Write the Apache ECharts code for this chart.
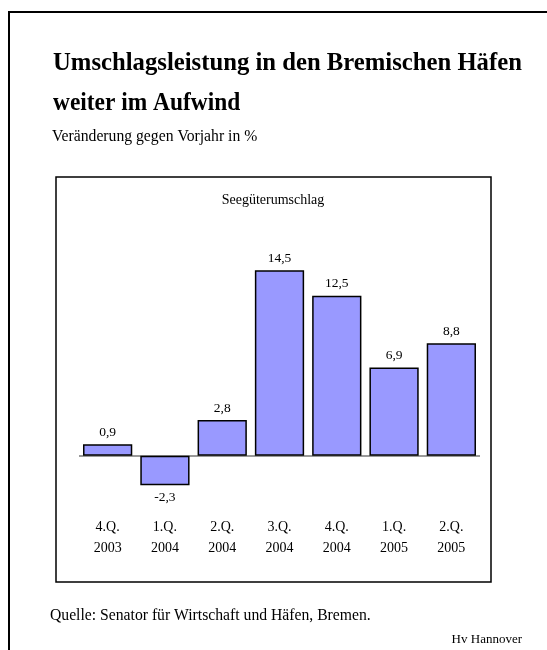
<!DOCTYPE html>
<html>
<head>
<meta charset="utf-8">
<script src="https://cdn.jsdelivr.net/npm/echarts@6/dist/echarts.min.js"></script>
<style>
  html, body { margin: 0; padding: 0; background: #fff; }
  #chart { width: 547px; height: 650px; }
</style>
</head>
<body>
<div id="chart"></div>
<script>
// Quartale (zweizeilig: Quartal / Jahr)
const quarters = ["4.Q.", "1.Q.", "2.Q.", "3.Q.", "4.Q.", "1.Q.", "2.Q."];
const years = ["2003", "2004", "2004", "2004", "2004", "2005", "2005"];
// Veränderung gegen Vorjahr in %
const values = [0.9, -2.3, 2.8, 14.5, 12.5, 6.9, 8.8];

const serif = "'Liberation Serif', 'Times New Roman', serif";

const chart = echarts.init(document.getElementById("chart"), null, { renderer: "canvas" });

const option = {
    backgroundColor: "#fff",
    animation: false,
    grid: {
        left: 79,
        right: 67,
        top: 251,
        bottom: 143,
    },
    xAxis: {
        type: "category",
        data: quarters.map((q, i) => q + "\n" + years[i]),
        axisLine: { show: false },
        axisTick: { show: false },
        axisLabel: {
            margin: 10,
            fontFamily: serif,
            fontSize: 14,
            lineHeight: 21,
            color: "#000",
        },
    },
    yAxis: {
        type: "value",
        min: -4,
        max: 16,
        show: false,
    },
    series: [
        {
            type: "bar",
            // negative Balken: Beschriftung unten
            data: values.map((v) => ({
                value: v,
                label: v < 0 ? { position: "bottom", distance: 5 } : undefined,
            })),
            barCategoryGap: "14%",
            itemStyle: {
                color: "#9999ff",
                borderColor: "#000",
                borderWidth: 1.5,
            },
            label: {
                show: true,
                position: "top",
                distance: 5,
                fontFamily: serif,
                fontSize: 13.5,
                color: "#000",
                formatter: (p) => String(p.value).replace(".", ","),
            },
            markLine: {
                silent: true,
                symbol: "none",
                label: { show: false },
                lineStyle: { color: "#777", width: 1.5, type: "solid" },
                data: [{ yAxis: 0 }],
                z: 1,
            },
        },
    ],
    graphic: [
        // äußerer Rahmen (nur links und oben)
        {
            type: "polyline",
            shape: { points: [[9, 650], [9, 12], [547, 12]] },
            style: { stroke: "#000", lineWidth: 2, fill: null },
        },
        // Überschrift, etwas schmal gesetzt wie im Original
        {
            type: "text",
            x: 53,
            y: 63,
            scaleX: 0.95,
            style: {
                text: "Umschlagsleistung in den Bremischen Häfen",
                font: "bold 26px " + serif,
                fill: "#000",
                verticalAlign: "middle",
            },
        },
        {
            type: "text",
            x: 53,
            y: 103,
            scaleX: 0.9,
            style: {
                text: "weiter im Aufwind",
                font: "bold 26px " + serif,
                fill: "#000",
                verticalAlign: "middle",
            },
        },
        {
            type: "text",
            x: 52,
            y: 137,
            scaleX: 0.98,
            style: {
                text: "Veränderung gegen Vorjahr in %",
                font: "16px " + serif,
                fill: "#000",
                verticalAlign: "middle",
            },
        },
        // Rahmen um das Diagramm
        {
            type: "rect",
            shape: { x: 56, y: 177, width: 435, height: 405 },
            style: { stroke: "#000", lineWidth: 1.5, fill: null },
            z: -1,
        },
        {
            type: "text",
            x: 273,
            y: 200,
            style: {
                text: "Seegüterumschlag",
                font: "14px " + serif,
                fill: "#000",
                align: "center",
                verticalAlign: "middle",
            },
        },
        {
            type: "text",
            x: 50,
            y: 616,
            scaleX: 0.98,
            style: {
                text: "Quelle: Senator für Wirtschaft und Häfen, Bremen.",
                font: "16px " + serif,
                fill: "#000",
                verticalAlign: "middle",
            },
        },
        {
            type: "text",
            x: 522,
            y: 640,
            style: {
                text: "Hv Hannover",
                font: "13px " + serif,
                fill: "#000",
                align: "right",
                verticalAlign: "middle",
            },
        },
    ],
};

chart.setOption(option);
</script>
</body>
</html>
